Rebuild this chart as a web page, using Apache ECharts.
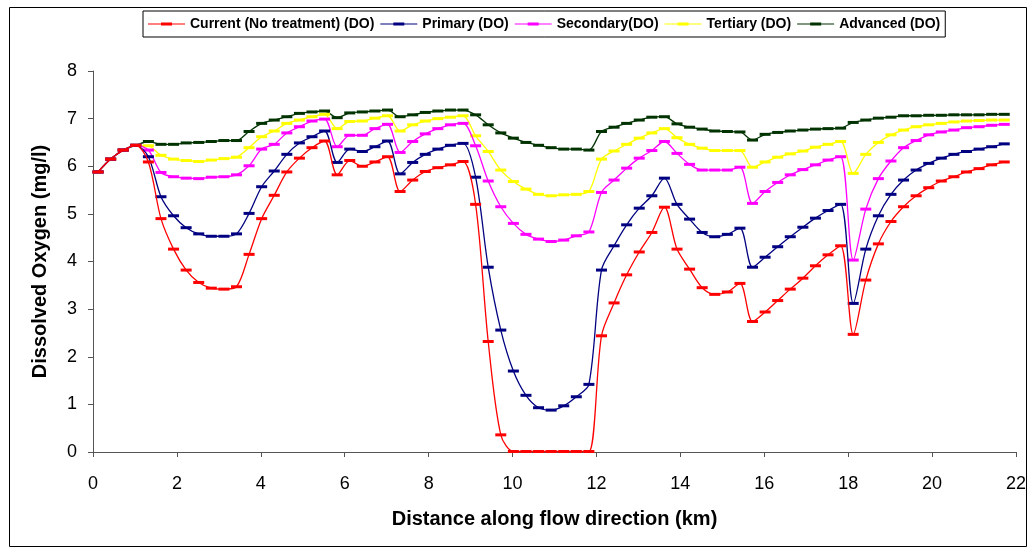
<!DOCTYPE html>
<html>
<head>
<meta charset="utf-8">
<script src="https://cdn.jsdelivr.net/npm/echarts@6/dist/echarts.min.js"></script>
<style>
  html, body { margin: 0; padding: 0; background: #fff; }
  #chart { width: 1029px; height: 549px; }
</style>
</head>
<body>
<div id="chart"></div>
<script>
// Distance along flow direction (km)
const distanceKm = [
  0.12, 0.42, 0.72, 1.02, 1.32, 1.62, 1.92, 2.22, 2.52, 2.82,
  3.12, 3.42, 3.72, 4.02, 4.32, 4.62, 4.92, 5.22, 5.52, 5.82,
  6.12, 6.42, 6.72, 7.02, 7.32, 7.62, 7.92, 8.22, 8.52, 8.82,
  9.12, 9.42, 9.72, 10.02, 10.32, 10.62, 10.92, 11.22, 11.52, 11.82,
  12.12, 12.42, 12.72, 13.02, 13.32, 13.62, 13.92, 14.22, 14.52, 14.82,
  15.12, 15.42, 15.72, 16.02, 16.32, 16.62, 16.92, 17.22, 17.52, 17.82,
  18.12, 18.42, 18.72, 19.02, 19.32, 19.62, 19.92, 20.22, 20.52, 20.82,
  21.12, 21.42, 21.72
];

const currentDO = [
  5.88, 6.15, 6.34, 6.44, 6.09, 4.90, 4.26, 3.82, 3.56, 3.44,
  3.42, 3.47, 4.15, 4.90, 5.39, 5.88, 6.17, 6.39, 6.53, 5.82,
  6.12, 6.00, 6.09, 6.20, 5.47, 5.71, 5.89, 5.97, 6.03, 6.10,
  5.20, 2.32, 0.36, 0.01, 0.01, 0.01, 0.01, 0.01, 0.01, 0.01,
  2.44, 3.13, 3.72, 4.20, 4.61, 5.14, 4.26, 3.84, 3.45, 3.31,
  3.36, 3.54, 2.74, 2.94, 3.18, 3.42, 3.65, 3.91, 4.14, 4.33,
  2.47, 3.61, 4.37, 4.84, 5.15, 5.38, 5.55, 5.69, 5.78, 5.88,
  5.95, 6.03, 6.09
];

const primaryDO = [
  5.88, 6.15, 6.34, 6.44, 6.20, 5.36, 4.96, 4.71, 4.58, 4.53,
  4.53, 4.58, 5.01, 5.57, 5.90, 6.25, 6.49, 6.62, 6.74, 6.08,
  6.36, 6.31, 6.41, 6.53, 5.84, 6.08, 6.25, 6.36, 6.44, 6.48,
  5.77, 3.88, 2.56, 1.70, 1.19, 0.93, 0.88, 0.97, 1.16, 1.42,
  3.82, 4.33, 4.77, 5.12, 5.38, 5.75, 5.20, 4.89, 4.61, 4.52,
  4.57, 4.70, 3.88, 4.09, 4.31, 4.52, 4.72, 4.91, 5.07, 5.20,
  3.12, 4.26, 4.96, 5.41, 5.71, 5.92, 6.06, 6.17, 6.25, 6.31,
  6.36, 6.41, 6.47
];

const secondaryDO = [
  5.88, 6.15, 6.34, 6.44, 6.34, 5.87, 5.78, 5.75, 5.74, 5.77,
  5.78, 5.82, 6.01, 6.36, 6.46, 6.70, 6.83, 6.95, 6.99, 6.41,
  6.65, 6.65, 6.79, 6.88, 6.29, 6.52, 6.68, 6.79, 6.87, 6.90,
  6.43, 5.69, 5.15, 4.80, 4.57, 4.47, 4.42, 4.45, 4.54, 4.62,
  5.45, 5.71, 5.96, 6.17, 6.33, 6.52, 6.27, 6.04, 5.92, 5.92,
  5.92, 5.98, 5.22, 5.47, 5.66, 5.82, 5.93, 6.03, 6.13, 6.20,
  4.03, 5.10, 5.74, 6.11, 6.39, 6.54, 6.66, 6.72, 6.76, 6.81,
  6.83, 6.86, 6.88
];

const tertiaryDO = [
  5.88, 6.15, 6.34, 6.44, 6.43, 6.23, 6.15, 6.12, 6.10, 6.13,
  6.16, 6.19, 6.39, 6.62, 6.74, 6.90, 6.97, 7.04, 7.09, 6.79,
  6.94, 6.95, 7.01, 7.06, 6.74, 6.87, 6.95, 7.00, 7.03, 7.06,
  6.64, 6.31, 5.92, 5.68, 5.52, 5.41, 5.38, 5.40, 5.41, 5.47,
  6.15, 6.32, 6.46, 6.59, 6.70, 6.79, 6.60, 6.46, 6.38, 6.33,
  6.33, 6.33, 5.98, 6.09, 6.19, 6.26, 6.32, 6.40, 6.46, 6.52,
  5.85, 6.25, 6.50, 6.66, 6.76, 6.83, 6.87, 6.90, 6.93, 6.95,
  6.96, 6.97, 6.97
];

const advancedDO = [
  5.88, 6.15, 6.34, 6.44, 6.52, 6.46, 6.46, 6.49, 6.50, 6.52,
  6.54, 6.54, 6.73, 6.90, 6.97, 7.04, 7.11, 7.14, 7.16, 7.02,
  7.12, 7.14, 7.16, 7.18, 7.04, 7.08, 7.13, 7.16, 7.18, 7.18,
  7.08, 6.87, 6.70, 6.59, 6.50, 6.44, 6.39, 6.36, 6.36, 6.34,
  6.73, 6.82, 6.90, 6.97, 7.03, 7.04, 6.89, 6.82, 6.78, 6.74,
  6.73, 6.72, 6.55, 6.67, 6.71, 6.74, 6.76, 6.78, 6.79, 6.80,
  6.92, 6.97, 7.01, 7.03, 7.06, 7.06, 7.07, 7.07, 7.08, 7.08,
  7.08, 7.09, 7.09
];

const seriesNames = [
  'Current (No treatment) (DO)', 'Primary (DO)', 'Secondary(DO)', 'Tertiary (DO)', 'Advanced (DO)'
];
const seriesColors = ['#FF0000', '#000080', '#FF00FF', '#FFFF00', '#003300'];
const seriesValues = [currentDO, primaryDO, secondaryDO, tertiaryDO, advancedDO];

const xTicks = { min: 0, max: 22, interval: 2 };
const yTicks = { min: 0, max: 8, interval: 1 };

const FONT = "'Liberation Sans', Arial, sans-serif";

// legend icon: thin line with a short thick dash in the middle (37 x 14 box)
const LEGEND_ICON = 'path://M0,0L0.01,0L0.01,0.01ZM0,6.4L37,6.4L37,7.6L0,7.6ZM13,5.4L24,5.4L24,8.6L13,8.6ZM36.99,13.99L37,13.99L37,14L36.99,14Z';

const chart = echarts.init(document.getElementById('chart'), null, { renderer: 'canvas' });

const series = seriesNames.map((name, k) => ({
  name: name,
  type: 'line',
  data: distanceKm.map((x, i) => [x, seriesValues[k][i]]),
  smooth: 0.3,
  symbol: 'rect',
  symbolSize: [11, 3],
  showAllSymbol: true,
  color: seriesColors[k],
  lineStyle: { width: 1.3, color: seriesColors[k] },
  itemStyle: { color: seriesColors[k] },
  emphasis: { disabled: true },
  z: 10 - k
}));

chart.setOption({
  backgroundColor: '#fff',
  animation: false,
  textStyle: { fontFamily: FONT },
  graphic: [{
    type: 'rect',
    shape: { x: 9.5, y: 7.5, width: 1017, height: 539 },
    style: { fill: 'none', stroke: '#000', lineWidth: 1 },
    silent: true
  }],
  legend: {
    left: 143,
    top: 11,
    padding: [6, 5, 6, 5],
    itemGap: 6,
    itemWidth: 37,
    itemHeight: 14,
    borderColor: '#000',
    borderWidth: 1,
    textStyle: { fontFamily: FONT, fontSize: 14, fontWeight: 'bold', color: '#000' },
    data: seriesNames.map((n) => ({ name: n, icon: LEGEND_ICON }))
  },
  grid: { left: 93, right: 8, top: 71, bottom: 97, containLabel: false },
  xAxis: {
    type: 'value',
    min: xTicks.min, max: xTicks.max, interval: xTicks.interval,
    name: 'Distance along flow direction (km)',
    nameLocation: 'middle',
    nameGap: 57,
    nameTextStyle: { fontFamily: FONT, fontSize: 20, fontWeight: 'bold', color: '#000' },
    axisLine: { show: true, onZero: false, lineStyle: { color: '#555', width: 1 } },
    axisTick: { show: true, inside: false, length: 5, lineStyle: { color: '#555' } },
    axisLabel: { margin: 23, fontFamily: FONT, fontSize: 18, color: '#000' },
    splitLine: { show: false }
  },
  yAxis: {
    type: 'value',
    min: yTicks.min, max: yTicks.max, interval: yTicks.interval,
    name: 'Dissolved Oxygen (mg/l)',
    nameLocation: 'middle',
    nameGap: 43,
    nameTextStyle: { fontFamily: FONT, fontSize: 20, fontWeight: 'bold', color: '#000' },
    axisLine: { show: true, lineStyle: { color: '#555', width: 1 } },
    axisTick: { show: true, inside: false, length: 5, lineStyle: { color: '#555' } },
    axisLabel: { margin: 16, fontFamily: FONT, fontSize: 18, color: '#000' },
    splitLine: { show: false }
  },
  series: series
});
</script>
</body>
</html>
